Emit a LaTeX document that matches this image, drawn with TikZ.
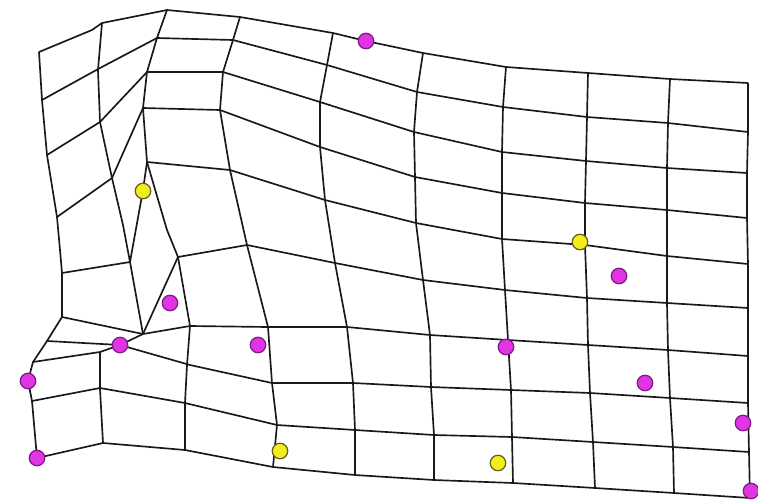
\documentclass[tikz,border=0pt]{standalone}
\definecolor{pinkfill}{RGB}{226,52,226}
\definecolor{pinkline}{RGB}{120,30,140}
\definecolor{yelfill}{RGB}{242,238,30}
\definecolor{yelline}{RGB}{100,95,30}
\begin{document}
\begin{tikzpicture}[x=0.02cm,y=-0.02cm,
  mesh/.style={draw=black!90, line width=0.95pt, line join=round},
  pinkdot/.style={circle, fill=pinkfill, draw=pinkline, line width=0.7pt, inner sep=0pt, minimum size=0.31cm},
  yellowdot/.style={circle, fill=yelfill, draw=yelline, line width=0.7pt, inner sep=0pt, minimum size=0.31cm}]
\useasboundingbox (0,0) rectangle (758,501);
% rows
\draw[mesh] (39,52)--(92,30)--(102,23)--(167,10)--(240,17)--(333,33)--(366,41)--(423,53)--(506,67)--(588,73)--(670,79)--(748,83);
\draw[mesh] (42,100)--(100,68)--(157,38)--(233,40)--(327,65)--(417,92)--(503,107)--(587,117)--(668,123)--(748,132);
\draw[mesh] (47,155)--(100,122)--(147,72)--(223,72)--(320,102)--(414,132)--(502,152)--(586,161)--(667,168)--(747,173);
\draw[mesh] (57,217)--(112,178)--(143,108)--(220,110)--(320,147)--(415,177)--(502,193)--(585,203)--(667,210)--(747,218);
\draw[mesh] (147,162)--(230,170)--(325,200)--(416,223)--(502,239)--(585,245)--(667,256)--(748,264);
\draw[mesh] (178,257)--(247,245)--(335,263)--(423,280)--(505,290)--(587,298)--(667,303)--(748,308);
\draw[mesh] (120,345)--(143,334)--(190,326)--(268,327)--(347,327)--(430,335)--(508,340)--(588,345)--(668,350)--(748,356);
\draw[mesh] (120,345)--(190,365)--(272,383)--(353,383)--(431,387)--(511,390)--(590,393)--(670,398)--(748,403);
\draw[mesh] (32,401)--(100,388)--(185,403)--(277,425)--(355,430)--(434,435)--(512,437)--(593,442)--(673,447)--(749,452);
\draw[mesh] (37,458)--(103,443)--(185,450)--(273,467)--(355,475)--(434,480)--(513,483)--(595,488)--(674,493)--(750,498);
% left short rows
\draw[mesh] (62,273)--(130,262);
\draw[mesh] (62,317)--(143,334);
\draw[mesh] (47,341)--(120,345);
\draw[mesh] (33,362)--(100,352)--(120,345);
% columns
\draw[mesh] (39,52)--(42,100)--(47,155)--(57,217)--(60,250)--(62,273)--(62,317)--(47,341)--(33,362)--(28,381)--(32,401)--(37,458);
\draw[mesh] (102,23)--(98,70)--(100,122)--(112,178)--(123,225)--(130,262)--(143,334);
\draw[mesh] (167,10)--(157,38)--(147,72)--(143,108)--(147,162)--(143,190)--(130,262);
\draw[mesh] (147,162)--(167,230)--(178,257)--(190,326)--(187,365)--(185,403)--(185,450);
\draw[mesh] (143,334)--(178,257);
\draw[mesh] (100,352)--(100,389)--(103,443);
\draw[mesh] (240,17)--(233,40)--(223,72)--(220,110)--(230,170)--(247,245)--(268,327)--(272,383)--(277,425)--(273,467);
\draw[mesh] (333,33)--(327,65)--(320,102)--(320,147)--(325,200)--(335,263)--(347,327)--(353,383)--(355,430)--(355,475);
\draw[mesh] (423,53)--(417,92)--(414,132)--(415,177)--(416,223)--(423,280)--(430,335)--(431,387)--(434,435)--(434,480);
\draw[mesh] (506,67)--(503,107)--(502,152)--(502,193)--(502,239)--(505,290)--(508,340)--(511,390)--(512,437)--(513,483);
\draw[mesh] (588,73)--(587,117)--(586,161)--(585,203)--(585,245)--(587,298)--(588,345)--(590,393)--(593,442)--(595,488);
\draw[mesh] (670,79)--(668,123)--(667,168)--(667,210)--(667,256)--(667,303)--(668,350)--(670,398)--(673,447)--(674,493);
\draw[mesh] (748,83)--(748,132)--(747,173)--(747,218)--(748,264)--(748,308)--(748,356)--(748,403)--(749,452)--(750,498);
% dots
\node[pinkdot] (p1) at (366,41) {};
\node[pinkdot] (p2) at (170,303) {};
\node[pinkdot] (p3) at (120,345) {};
\node[pinkdot] (p4) at (258,345) {};
\node[pinkdot] (p5) at (28,381) {};
\node[pinkdot] (p6) at (37,458) {};
\node[pinkdot] (p7) at (506,347) {};
\node[pinkdot] (p8) at (619,276) {};
\node[pinkdot] (p9) at (645,383) {};
\node[pinkdot] (p10) at (743,423) {};
\node[pinkdot] (p11) at (751,491) {};
\node[yellowdot] (y1) at (143,191) {};
\node[yellowdot] (y2) at (580,242) {};
\node[yellowdot] (y3) at (280,451) {};
\node[yellowdot] (y4) at (498,463) {};
\end{tikzpicture}
\end{document}
